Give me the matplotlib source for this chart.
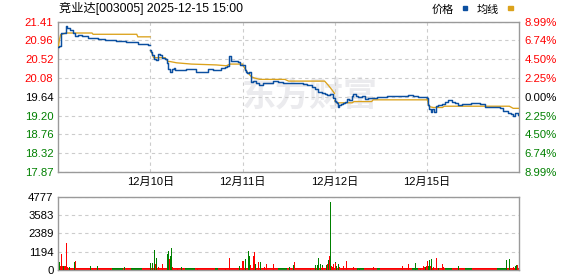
import matplotlib
matplotlib.use('Agg')
import matplotlib.pyplot as plt
from matplotlib.patches import Rectangle

plt.rcParams['font.family'] = ['Liberation Sans', 'Noto Sans CJK SC', 'DejaVu Sans']

# ---------------- data ----------------
stock_title = '竞业达[003005] 2025-12-15 15:00'
prev_close = 19.64
limit_pct = 8.99
minutes_per_day = 241
n_days = 5
day_labels = ['12月10日', '12月11日', '12月12日', '12月15日']
price_tick_labels = ['17.87', '18.32', '18.76', '19.20', '19.64', '20.08', '20.52', '20.96', '21.41']
pct_tick_labels = ['8.99%', '6.74%', '4.50%', '2.25%', '0.00%', '2.25%', '4.50%', '6.74%', '8.99%']
vol_tick_values = [0, 1194, 2389, 3583, 4777]
vol_tick_labels = ['0', '1194', '2389', '3583', '4777']
legend_labels = ['价格', '均线']
watermark = '东方财富'

# price line per day (minute within day, price)
d1_min = [0, 3, 6, 10, 18, 20, 24, 31, 39, 44, 52, 61, 70, 78, 91, 104, 121, 139, 152, 165, 178, 191, 200, 208, 221, 234, 240]
d1_price = [20.82, 20.84, 21.15, 21.13, 21.13, 21.31, 21.25, 21.20, 21.14, 21.08, 21.10, 21.07, 21.06, 21.03, 21.02, 21.00,
            20.98, 20.98, 20.96, 20.96, 20.94, 20.94, 20.92, 20.89, 20.88, 20.86, 20.86]
d2_min = [0, 2, 5, 10, 14, 20, 25, 29, 38, 42, 46, 51, 55, 62, 64, 77, 94, 111, 120, 137, 150, 163, 176, 185, 194, 200,
          205, 211, 220, 229, 233, 240]
d2_price = [20.75, 20.70, 20.63, 20.52, 20.50, 20.64, 20.62, 20.56, 20.52, 20.43, 20.29, 20.23, 20.29, 20.31, 20.26, 20.27,
            20.29, 20.29, 20.23, 20.23, 20.29, 20.27, 20.27, 20.31, 20.35, 20.37, 20.59, 20.49, 20.48, 20.47, 20.39, 20.39]
d3_min = [0, 6, 9, 12, 17, 21, 23, 28, 35, 43, 54, 67, 80, 93, 106, 119, 128, 145, 158, 167, 180, 188, 197, 206, 214,
          221, 227, 236, 240]
d3_price = [20.39, 20.27, 20.23, 20.19, 20.23, 20.11, 19.99, 20.01, 19.96, 19.92, 19.96, 19.97, 20.02, 20.00, 19.97, 19.96,
            19.97, 19.96, 19.94, 19.92, 19.88, 19.82, 19.76, 19.74, 19.71, 19.68, 19.71, 19.61, 19.55]
d4_min = [0, 2, 5, 7, 11, 16, 22, 26, 31, 37, 44, 48, 54, 61, 70, 78, 87, 96, 109, 122, 135, 148, 161, 174, 187, 191,
          204, 217, 235, 240]
d4_price = [19.55, 19.53, 19.49, 19.41, 19.45, 19.47, 19.49, 19.53, 19.58, 19.57, 19.66, 19.71, 19.66, 19.63, 19.65, 19.58,
            19.61, 19.61, 19.63, 19.63, 19.65, 19.65, 19.66, 19.66, 19.66, 19.68, 19.67, 19.64, 19.64, 19.64]
d5_min = [0, 2, 5, 9, 14, 19, 23, 29, 38, 47, 55, 64, 73, 81, 90, 103, 116, 129, 138, 151, 164, 177, 190, 198, 211,
          220, 224, 229, 237, 240]
d5_price = [19.62, 19.45, 19.35, 19.29, 19.35, 19.29, 19.42, 19.45, 19.47, 19.53, 19.57, 19.53, 19.50, 19.45, 19.47, 19.47,
            19.49, 19.50, 19.47, 19.41, 19.39, 19.39, 19.37, 19.31, 19.27, 19.23, 19.19, 19.25, 19.21, 19.21]

# average (均线) per day
d1_avg_min = [0, 3, 6, 20, 88, 91, 205, 208, 240]
d1_avg = [20.82, 20.98, 21.10, 21.14, 21.14, 21.11, 21.11, 21.05, 21.05]
d2_avg_min = [0, 3, 8, 38, 46, 51, 68, 107, 172, 198, 208, 240]
d2_avg = [20.72, 20.68, 20.56, 20.56, 20.47, 20.47, 20.44, 20.41, 20.39, 20.37, 20.41, 20.41]
d3_avg_min = [0, 6, 12, 23, 32, 45, 110, 120, 214, 223, 232, 240]
d3_avg = [20.39, 20.30, 20.22, 20.11, 20.08, 20.05, 20.05, 20.01, 20.01, 19.92, 19.82, 19.72]
d4_avg_min = [0, 5, 45, 50, 96, 100, 240]
d4_avg = [19.55, 19.50, 19.50, 19.53, 19.53, 19.57, 19.57]
d5_avg_min = [0, 3, 6, 16, 40, 45, 215, 225, 240]
d5_avg = [19.60, 19.48, 19.41, 19.39, 19.39, 19.42, 19.42, 19.37, 19.37]

# volume: notable bars (global minute, volume, 1 = red/up, 0 = green/down)
vol_min = [2, 4, 7, 10, 12, 15, 18, 21, 23, 29, 42, 44, 83, 102, 135, 172,
           241, 245, 250, 253, 256, 260, 272, 285, 288, 290, 293, 295, 298, 310, 321, 363, 436, 446, 473,
           481, 484, 489, 497, 499, 502, 510, 512, 515, 523, 528, 538, 544, 562, 603, 614, 617, 658, 672, 677, 680,
           685, 688, 690, 701, 703, 706, 708, 711, 714, 716, 719,
           722, 724, 727, 732, 735, 743, 745, 753, 771, 780, 785, 823, 899, 915, 933, 946, 952, 957, 959,
           962, 965, 967, 970, 972, 975, 978, 980, 986, 993, 1004, 1006, 1046, 1170, 1179, 1189, 1192, 1195, 1197, 1200, 1203]
vol_val = [530, 245, 1020, 245, 245, 245, 245, 1750, 200, 200, 500, 575, 245, 245, 150, 190,
           440, 440, 1300, 370, 750, 200, 400, 1020, 1240, 710, 900, 1460, 200, 150, 200, 130, 130, 800, 250,
           590, 590, 730, 1240, 900, 330, 900, 1150, 370, 530, 530, 200, 370, 400, 200, 330, 530, 150, 330, 300, 775,
           400, 330, 200, 300, 370, 640, 900, 4450, 250, 200, 370,
           530, 450, 250, 370, 200, 250, 250, 590, 200, 150, 150, 200, 260, 400, 460, 150, 260, 200, 200,
           250, 590, 250, 680, 250, 730, 150, 200, 800, 130, 420, 200, 240, 660, 730, 200, 150, 250, 300, 300, 400]
vol_up = [0, 1, 1, 1, 0, 1, 1, 1, 1, 0, 0, 1, 0, 0, 1, 0,
          0, 0, 0, 1, 0, 1, 1, 0, 0, 1, 0, 0, 1, 1, 0, 1, 1, 1, 0,
          1, 1, 0, 0, 0, 1, 1, 1, 0, 1, 0, 1, 1, 1, 0, 0, 1, 1, 0, 0, 0,
          0, 0, 1, 0, 1, 0, 1, 0, 1, 1, 1,
          0, 1, 0, 0, 1, 1, 1, 1, 1, 0, 0, 1, 1, 1, 0, 1, 1, 1, 0,
          1, 1, 0, 0, 1, 0, 1, 1, 1, 0, 1, 1, 0, 0, 0, 1, 1, 0, 0, 1, 1]
vol_floor = 120          # typical small per-minute volume forming the bottom strip
floor_green_runs = [(140, 169), (190, 219), (331, 357), (410, 417), (574, 597), (781, 797), (833, 841),
                    (925, 940), (1011, 1029), (1063, 1081), (1147, 1168)]

# ---------------- style ----------------
RED = '#ff0000'
GREEN = '#008000'
BLUE = '#0b4fa0'
GOLD = '#dba21c'
SPINE = '#9a9a9a'
GRID = '#cccccc'
W, H = 578, 276

fig = plt.figure(figsize=(W / 100, H / 100), dpi=100)
fig.patch.set_facecolor('white')

def fx(px):
    return px / W

def fy(py):
    return 1 - py / H

ax = fig.add_axes([fx(58.3), fy(172), fx(519.3) - fx(58.3), fy(21.7) - fy(172)])
axv = fig.add_axes([fx(58.3), fy(270), fx(519.3) - fx(58.3), fy(196.7) - fy(270)])

total = minutes_per_day * n_days
lo = prev_close * (1 - limit_pct / 100)
hi = prev_close * (1 + limit_pct / 100)

days_p = [(d1_min, d1_price), (d2_min, d2_price), (d3_min, d3_price), (d4_min, d4_price), (d5_min, d5_price)]
days_a = [(d1_avg_min, d1_avg), (d2_avg_min, d2_avg), (d3_avg_min, d3_avg), (d4_avg_min, d4_avg), (d5_avg_min, d5_avg)]

for d, (mins, vals) in enumerate(days_a):
    ax.plot([d * minutes_per_day + m for m in mins], vals, color=GOLD, lw=0.95, zorder=3,
            solid_joinstyle='miter')
for d, (mins, vals) in enumerate(days_p):
    ax.plot([d * minutes_per_day + m for m in mins], vals, color=BLUE, lw=1.05, zorder=4,
            drawstyle='steps-post')

ax.set_xlim(0, total)
ax.set_ylim(lo, hi)
yt = [lo + i * (hi - lo) / 8 for i in range(9)]
ax.set_yticks(yt)
ax.set_yticklabels(price_tick_labels)
for i, t in enumerate(ax.get_yticklabels()):
    t.set_color(GREEN if i < 4 else ('black' if i == 4 else RED))
boundaries = [minutes_per_day * k for k in range(1, n_days)]
ax.set_xticks(boundaries)
ax.set_xticklabels(day_labels)
ax.tick_params(axis='both', length=0, labelsize=8.2)
ax.tick_params(axis='y', pad=3.5)
ax.tick_params(axis='x', pad=3.5, labelsize=8)
ax.grid(True, color=GRID, lw=0.8, ls=(0, (3, 3)), zorder=1)
for s in ax.spines.values():
    s.set_color(SPINE)
    s.set_linewidth(1.0)

ax2 = ax.twinx()
ax2.set_ylim(lo, hi)
ax2.set_yticks(yt)
ax2.set_yticklabels(pct_tick_labels)
for i, t in enumerate(ax2.get_yticklabels()):
    t.set_color(GREEN if i < 4 else ('black' if i == 4 else RED))
ax2.tick_params(axis='y', length=0, labelsize=8.2, pad=4)
for s in ax2.spines.values():
    s.set_visible(False)

ax.text(0.545, 0.505, watermark, transform=ax.transAxes, fontsize=24.5, fontweight='bold',
        color='#ebebee', ha='center', va='center', family=['Noto Sans CJK SC'], zorder=0.5)

# volume: bottom strip drawn as contiguous colour runs
floor_c = [RED] * total
for a, b in floor_green_runs:
    for i in range(a, b + 1):
        floor_c[i] = GREEN
run_start, run_x, run_w, run_c = 0, [], [], []
for i in range(1, total + 1):
    if i == total or floor_c[i] != floor_c[run_start]:
        run_x.append(run_start)
        run_w.append(i - run_start)
        run_c.append(floor_c[run_start])
        run_start = i
axv.bar(run_x, [vol_floor] * len(run_x), width=run_w, color=run_c, linewidth=0, align='edge', zorder=2)
axv.bar(vol_min, vol_val, width=2.6, color=[RED if u else GREEN for u in vol_up], linewidth=0,
        align='edge', antialiased=False, zorder=3)
axv.set_xlim(0, total)
axv.set_ylim(0, vol_tick_values[-1])
axv.set_yticks(vol_tick_values)
axv.set_yticklabels(vol_tick_labels)
axv.set_xticks([])
axv.tick_params(axis='y', length=0, labelsize=8.2, pad=3.5, colors='black')
axv.grid(True, axis='y', color=GRID, lw=0.8, ls=(0, (3, 3)), zorder=1)
for s in axv.spines.values():
    s.set_color(SPINE)
    s.set_linewidth(1.0)

# header & legend
fig.text(fx(59), fy(8.5), stock_title, fontsize=8.8, ha='left', va='center', color='black')
fig.text(fx(431.5), fy(9.5), legend_labels[0], fontsize=8, ha='left', va='center', color='black',
         family=['Noto Sans CJK SC'])
fig.text(fx(476.5), fy(9.5), legend_labels[1], fontsize=8, ha='left', va='center', color='black',
         family=['Noto Sans CJK SC'])
fig.patches.append(Rectangle((fx(462.5), fy(9.5)), fx(4.5), 3 / H, transform=fig.transFigure, color=BLUE))
fig.patches.append(Rectangle((fx(508), fy(9.5)), fx(4.5), 3 / H, transform=fig.transFigure, color=GOLD))

fig.savefig('out.png', dpi=100)
